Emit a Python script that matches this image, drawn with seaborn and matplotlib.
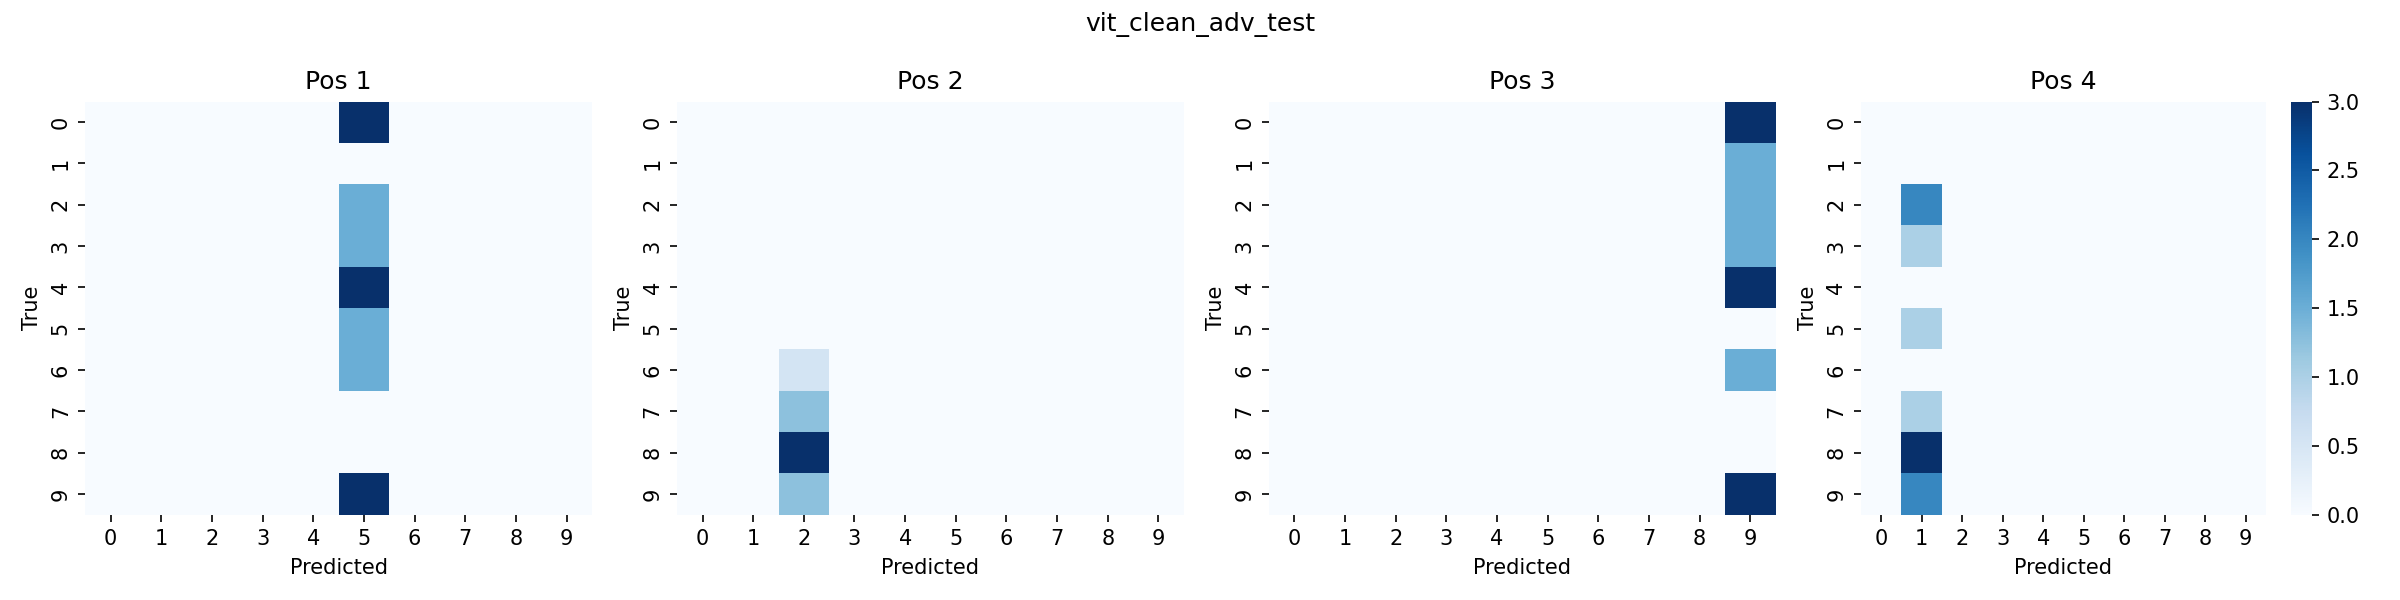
import numpy as np
import pandas as pd
import matplotlib
matplotlib.use("Agg")
import matplotlib.pyplot as plt
import seaborn as sns

labels = list(range(10))
titles = ["Pos 1", "Pos 2", "Pos 3", "Pos 4"]

# Nonzero column per panel and the values in that column (rows 0..9)
pos1_col = 5
pos1_vals = [3.0, 0.0, 1.5, 1.5, 3.0, 1.5, 1.5, 0.0, 0.0, 3.0]
pos2_col = 2
pos2_vals = [0.0, 0.0, 0.0, 0.0, 0.0, 0.0, 0.55, 1.25, 3.0, 1.25]
pos3_col = 9
pos3_vals = [3.0, 1.5, 1.5, 1.5, 3.0, 0.0, 1.5, 0.0, 0.0, 3.0]
pos4_col = 1
pos4_vals = [0.0, 0.0, 2.0, 1.0, 0.0, 1.0, 0.0, 1.0, 3.0, 2.0]

cols = [pos1_col, pos2_col, pos3_col, pos4_col]
vals = [pos1_vals, pos2_vals, pos3_vals, pos4_vals]

fig, axes = plt.subplots(1, 4, figsize=(16, 4), dpi=150)
for i, ax in enumerate(axes):
    m = np.zeros((10, 10))
    m[:, cols[i]] = vals[i]
    df = pd.DataFrame(m, index=labels, columns=labels)
    sns.heatmap(df, ax=ax, cmap="Blues", vmin=0, vmax=3, cbar=(i == 3))
    ax.set_title(titles[i])
    ax.set_xlabel("Predicted")
    ax.set_ylabel("True")
fig.suptitle("vit_clean_adv_test")
fig.tight_layout()
fig.savefig("out.png")
